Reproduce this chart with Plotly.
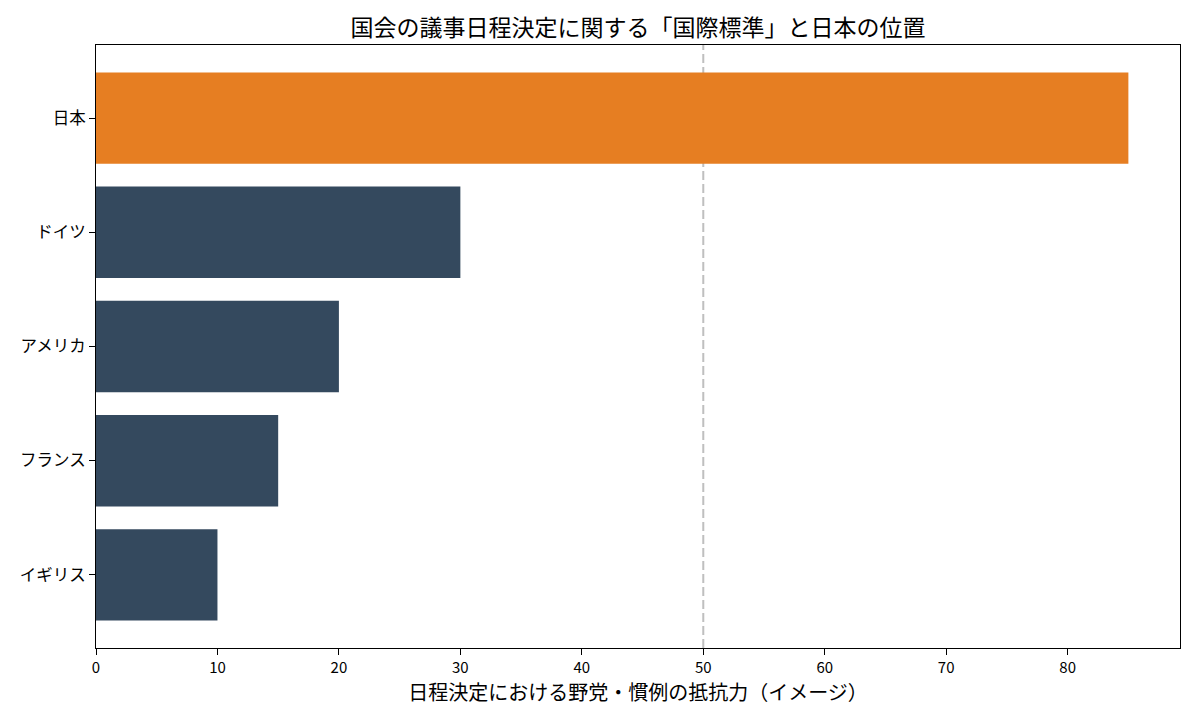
import plotly.graph_objects as go

countries = ["イギリス", "フランス", "アメリカ", "ドイツ", "日本"]
values = [10, 15, 20, 30, 85]
colors = ["#34495e", "#34495e", "#34495e", "#34495e", "#e67e22"]
reference_x = 50
x_ticks = [0, 10, 20, 30, 40, 50, 60, 70, 80]

title_text = "国会の議事日程決定に関する「国際標準」と日本の位置"
x_title = "日程決定における野党・慣例の抵抗力（イメージ）"

FONT = "Noto Sans CJK JP"

fig = go.Figure()
fig.add_trace(go.Bar(
    y=countries,
    x=values,
    orientation="h",
    marker=dict(color=colors, line=dict(width=0)),
    width=0.8,
    showlegend=False,
))

fig.add_shape(
    type="line", xref="x", yref="paper",
    x0=reference_x, x1=reference_x, y0=0, y1=1,
    line=dict(color="rgba(128,128,128,0.5)", width=2, dash="9px,4px"),
    layer="below",
)

fig.update_layout(
    width=1200, height=720,
    paper_bgcolor="white", plot_bgcolor="white",
    margin=dict(l=88, r=28, t=37, b=80),
    font=dict(family=FONT, size=15, color="black"),
    title=dict(text=title_text, x=0.5, xanchor="center", xref="paper",
               y=0.972, yanchor="middle",
               font=dict(family=FONT, size=23, color="black")),
    bargap=0.2,
)

fig.update_xaxes(
    range=[0, 89.25],
    tickvals=x_ticks,
    ticks="outside", ticklen=6, tickcolor="black", tickwidth=1,
    showline=True, linecolor="black", linewidth=1, mirror=True,
    showgrid=False, zeroline=False, automargin=False,
    tickfont=dict(family=FONT, size=15, color="black"),
    title=dict(text=x_title, font=dict(family=FONT, size=20, color="black"), standoff=4),
)
fig.update_yaxes(
    range=[-0.64, 4.64],
    categoryorder="array", categoryarray=countries,
    ticks="outside", ticklen=6, tickcolor="black", tickwidth=1,
    showline=True, linecolor="black", linewidth=1, mirror=True,
    showgrid=False, zeroline=False, automargin=False,
    tickfont=dict(family=FONT, size=16.5, color="black"),
)

fig.write_html("out.html")
